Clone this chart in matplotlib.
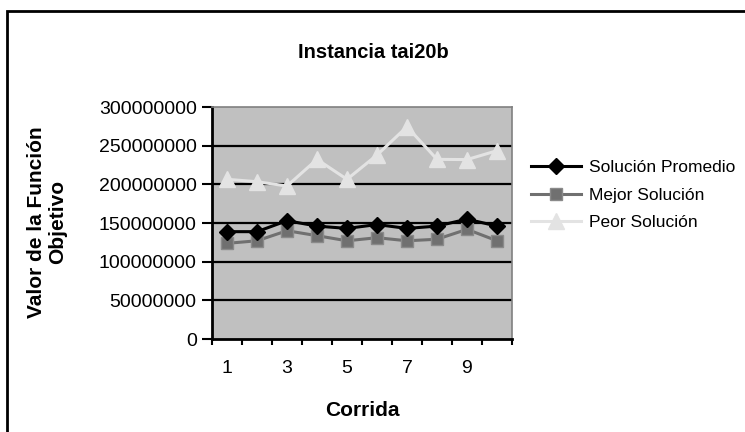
import matplotlib
matplotlib.use("Agg")
import matplotlib.pyplot as plt
from matplotlib.patches import Rectangle

plt.rcParams['font.family'] = ['Liberation Sans', 'DejaVu Sans']

corridas = [1, 2, 3, 4, 5, 6, 7, 8, 9, 10]
promedio = [138.8e6, 138.8e6, 153e6, 146e6, 143e6, 148e6, 143e6, 146e6, 155e6, 146e6]
mejor = [123.7e6, 127e6, 140e6, 133.6e6, 127e6, 131e6, 127e6, 129e6, 141.8e6, 127e6]
peor = [206.5e6, 203.4e6, 197.8e6, 232.3e6, 206.5e6, 237.9e6, 274.5e6, 232.3e6, 232e6, 243.5e6]
y_ticks = [0, 50000000, 100000000, 150000000, 200000000, 250000000, 300000000]
x_labels = [1, 3, 5, 7, 9]

W, H = 745, 432
fig = plt.figure(figsize=(W / 100, H / 100), dpi=100)
fig.patch.set_facecolor('white')

# outer chart frame
fig.add_artist(Rectangle((7.5 / W, -0.05), 1.1, 1 - 10.5 / H + 0.05,
                         transform=fig.transFigure, fill=False,
                         edgecolor='black', linewidth=2))

ax = fig.add_axes([212 / W, 1 - 339 / H, 300 / W, 232 / H])
ax.set_facecolor('#c0c0c0')

ax.plot(corridas, promedio, color='black', lw=2.2, marker='D', ms=8,
        mfc='black', mec='black', label='Solución Promedio', zorder=4)
ax.plot(corridas, mejor, color='#707070', lw=2.2, marker='s', ms=8,
        mfc='#707070', mec='#8a8a8a', label='Mejor Solución', zorder=3)
ax.plot(corridas, peor, color='#e3e3e3', lw=2.2, marker='^', ms=11,
        mfc='#e3e3e3', mec='#e3e3e3', label='Peor Solución', zorder=3)

ax.set_xlim(0.5, 10.5)
ax.set_ylim(0, 300000000)
ax.set_yticks(y_ticks)
ax.set_yticklabels([str(v) for v in y_ticks], fontsize=14)
ax.set_xticks(x_labels)
ax.set_xticklabels([str(v) for v in x_labels], fontsize=14)
ax.set_xticks([i + 0.5 for i in range(0, 11)], minor=True)
ax.tick_params(axis='x', which='major', length=0, pad=15)
ax.tick_params(axis='x', which='minor', length=4, width=1.5, direction='out')
ax.tick_params(axis='y', length=7, width=1.5, direction='out', pad=4)

for v in y_ticks[1:-1]:
    ax.axhline(v, color='black', lw=1.6, zorder=1)

for s in ['left', 'bottom']:
    ax.spines[s].set_linewidth(2)
    ax.spines[s].set_color('black')
for s in ['top', 'right']:
    ax.spines[s].set_linewidth(1.2)
    ax.spines[s].set_color('#808080')

fig.text(373 / W, 1 - 52 / H, 'Instancia tai20b', ha='center', va='center',
         fontsize=14.5, fontweight='bold')
fig.text(362 / W, 1 - 411 / H, 'Corrida', ha='center', va='center',
         fontsize=15, fontweight='bold')
fig.text(47 / W, 1 - 222 / H, 'Valor de la Función\nObjetivo', ha='center',
         va='center', rotation=90, fontsize=15, fontweight='bold',
         linespacing=1.15)

ax.legend(loc='upper left', bbox_to_anchor=(524 / W, 1 - 153 / H),
          bbox_transform=fig.transFigure, frameon=False, fontsize=12.5,
          handlelength=2.9, handletextpad=0.45, labelspacing=0.72,
          borderaxespad=0)

fig.savefig('out.png', dpi=100)
